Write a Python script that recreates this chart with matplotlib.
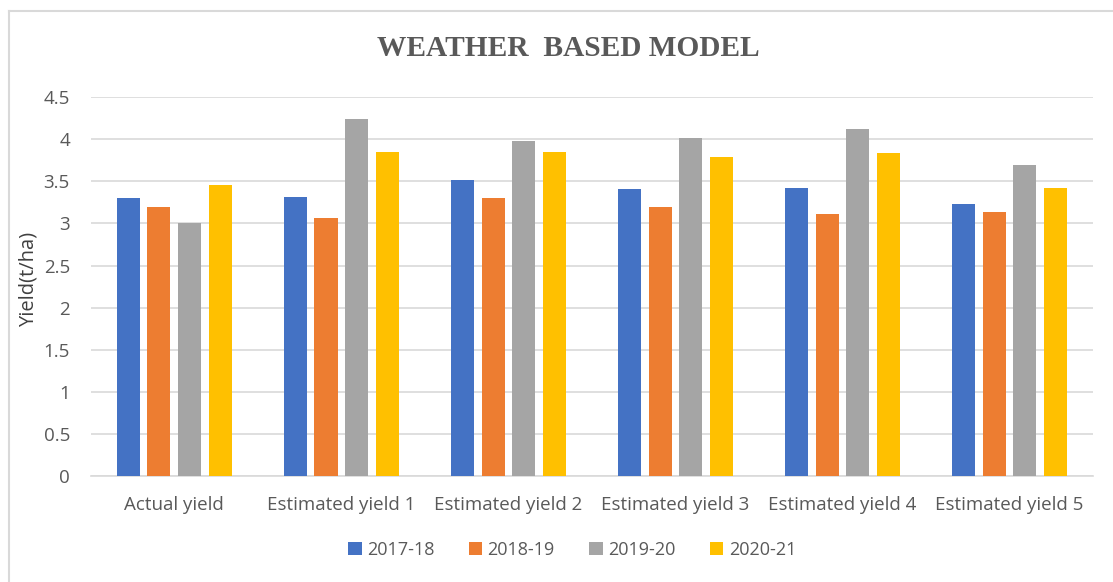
import matplotlib.pyplot as plt
import numpy as np

# chart data
categories = ["Actual yield", "Estimated yield 1", "Estimated yield 2",
              "Estimated yield 3", "Estimated yield 4", "Estimated yield 5"]
seasons = ["2017-18", "2018-19", "2019-20", "2020-21"]
y2017_18 = [3.30, 3.32, 3.52, 3.41, 3.42, 3.23]
y2018_19 = [3.19, 3.07, 3.30, 3.19, 3.11, 3.14]
y2019_20 = [3.00, 4.24, 3.98, 4.02, 4.12, 3.69]
y2020_21 = [3.46, 3.85, 3.85, 3.79, 3.84, 3.42]
yticks = [0, 0.5, 1, 1.5, 2, 2.5, 3, 3.5, 4, 4.5]

colors = ["#4472C4", "#ED7D31", "#A5A5A5", "#FFC000"]
series = [y2017_18, y2018_19, y2019_20, y2020_21]
text_col = "#595959"
grid_col = "#d9d9d9"
font = "Open Sans"

fig = plt.figure(figsize=(11.13, 5.82), dpi=100)
ax = fig.add_axes([0.0815, 0.182, 0.9005, 0.651])

x = np.arange(len(categories))
width = 0.138
step = 0.183
for i, (vals, lab, c) in enumerate(zip(series, seasons, colors)):
    ax.bar(x + (i - 1.5) * step, vals, width=width, color=c, label=lab, zorder=3)

ax.set_xlim(-0.5, len(categories) - 0.5)
ax.set_ylim(0, 4.5)
ax.set_yticks(yticks)
ax.set_yticklabels([f"{t:g}" for t in yticks])
ax.set_xticks(x)
ax.set_xticklabels(categories)
ax.yaxis.grid(True, color=grid_col, linewidth=1.2, zorder=0)
for s in ["top", "right", "left"]:
    ax.spines[s].set_visible(False)
ax.spines["bottom"].set_color(grid_col)
ax.spines["bottom"].set_linewidth(1.2)
ax.tick_params(length=0, labelsize=13.5, labelcolor=text_col, pad=14)
ax.tick_params(axis="y", pad=15)
for lbl in ax.get_xticklabels() + ax.get_yticklabels():
    lbl.set_family(font)

ax.set_ylabel("Yield(t/ha)", fontsize=14.5, color="#404040", family=font, labelpad=2)
ax.yaxis.set_label_coords(-0.052, 0.52)

fig.text(0.511, 0.917, "WEATHER  BASED MODEL", ha="center", va="center",
         fontsize=21.2, fontweight="bold", family="Liberation Serif", color=text_col)

fig.legend(loc="center", bbox_to_anchor=(0.514, 0.055), ncol=4, frameon=False,
           prop={"family": font, "size": 13}, labelcolor=text_col,
           handlelength=0.75, handleheight=0.75, handletextpad=0.3, columnspacing=1.9)

# chart border
fig.add_artist(plt.Line2D([9 / 1113, 9 / 1113], [0, 1 - 11 / 582], color=grid_col, lw=1.5))
fig.add_artist(plt.Line2D([9 / 1113, 1], [1 - 11 / 582, 1 - 11 / 582], color=grid_col, lw=1.5))

fig.savefig("out.png", dpi=100)
